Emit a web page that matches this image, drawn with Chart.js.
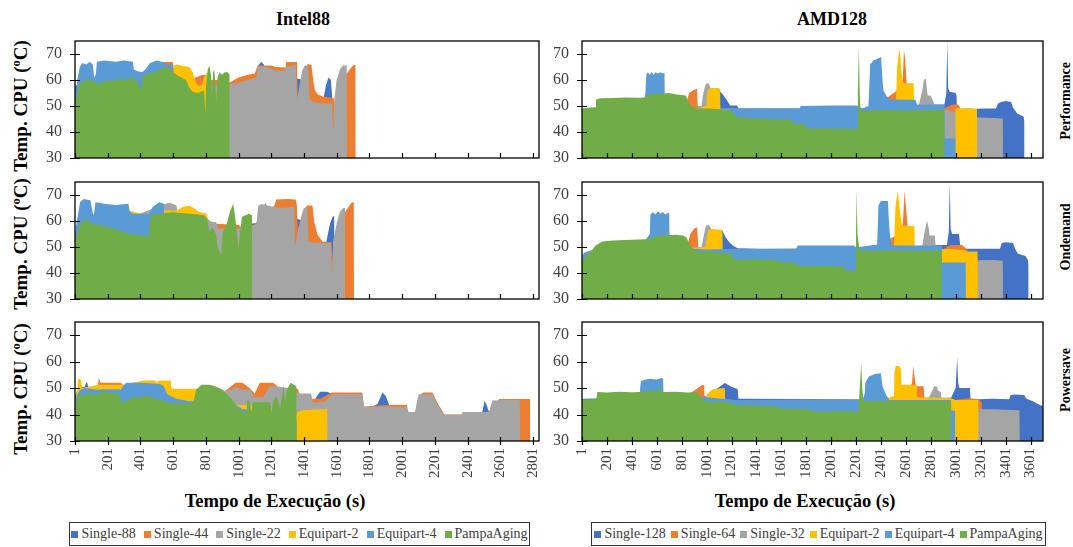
<!DOCTYPE html>
<html><head><meta charset="utf-8">
<script src="https://cdn.jsdelivr.net/npm/chart.js@4/dist/chart.umd.min.js"></script>
<style>
html,body{margin:0;padding:0;background:#fff;}
body{width:1073px;height:547px;position:relative;overflow:hidden;font-family:"Liberation Serif","Times New Roman",serif;color:#000;}
canvas{position:absolute;}
.t{position:absolute;white-space:nowrap;transform:translate(-50%,-50%);font-weight:bold;line-height:1;}
.rot{transform:translate(-50%,-50%) rotate(-90deg);}
.legend{position:absolute;top:522px;height:24px;border:1px solid #333;box-sizing:border-box;display:flex;align-items:center;justify-content:center;font-size:14px;color:#404040;white-space:nowrap;}
.legend .m{display:inline-block;width:7px;height:7px;margin-right:3px;}
</style></head><body>
<div class="t" style="left:303px;top:19px;font-size:18px;">Intel88</div>
<div class="t" style="left:832px;top:19px;font-size:18px;">AMD128</div>
<div class="t rot" style="left:20px;top:106px;font-size:19px;">Temp. CPU (ºC)</div>
<div class="t rot" style="left:20px;top:244px;font-size:19px;">Temp. CPU (ºC)</div>
<div class="t rot" style="left:20px;top:389px;font-size:19px;">Temp. CPU (ºC)</div>
<div class="t rot" style="left:1066px;top:101px;font-size:14px;">Performance</div>
<div class="t rot" style="left:1066px;top:237px;font-size:14px;">Ondemand</div>
<div class="t rot" style="left:1066px;top:380px;font-size:14px;">Powersave</div>
<div class="t" style="left:275px;top:501px;font-size:18.5px;">Tempo de Execução (s)</div>
<div class="t" style="left:805px;top:501px;font-size:18.5px;">Tempo de Execução (s)</div>
<div id="legL" class="legend" style="left:69px;width:461px;gap:8px;"></div>
<div id="legR" class="legend" style="left:591px;width:455px;gap:5px;"></div>
<script>
// ---------- categories / labels ----------
const seriesLeft = ['Single-88','Single-44','Single-22','Equipart-2','Equipart-4','PampaAging'];
const seriesRight = ['Single-128','Single-64','Single-32','Equipart-2','Equipart-4','PampaAging'];
const seriesColors = ['#4472C4','#ED7D31','#A5A5A5','#FFC000','#5B9BD5','#70AD47'];
const xTicksLeft = [1,201,401,601,801,1001,1201,1401,1601,1801,2001,2201,2401,2601,2801];
const xTicksRight = [1,201,401,601,801,1001,1201,1401,1601,1801,2001,2201,2401,2601,2801,3001,3201,3401,3601];
const yTicks = [30,40,50,60,70];

// ---------- Intel88 / Performance : [time (s), temp (ºC)] ----------
const intelPerfSingle88 = [[1,30],[2,58],[20,58],[500,62],[900,58],[1050,60],[1105,62],[1125,66],[1140,67],[1155,66],[1165,62],[1250,62],[1400,60],[1480,52],[1520,53],[1535,58],[1550,61],[1565,60],[1575,52],[1580,30]];
const intelPerfSingle44 = [[1,30],[2,50],[200,60],[500,64],[530,66.9],[600,66.9],[610,62],[700,60],[772,61.8],[794,62],[820,60],[900,60],[947,59],[1000,61],[1057,62],[1100,62.5],[1118,65.6],[1200,65.6],[1225,65],[1288,64.8],[1292,66.9],[1358,66.9],[1362,54],[1380,59],[1400,64],[1425,66.2],[1446,65.8],[1457,60],[1467,56],[1488,54.3],[1520,53.6],[1560,53.3],[1583,53],[1588,45],[1600,50],[1663,62.5],[1680,64],[1700,65.6],[1716,65.8],[1717,30]];
const intelPerfSingle22 = [[1,30],[2,45],[50,55],[200,56],[500,58],[900,58],[947,58.5],[980,58.7],[1020,59.3],[1060,60],[1110,61],[1118,65],[1150,65.2],[1200,64.5],[1225,63.7],[1280,63.5],[1290,65],[1330,65.5],[1350,66],[1360,52.4],[1375,58.7],[1390,63.7],[1405,65.6],[1425,65.6],[1436,52.4],[1460,51.5],[1520,51],[1572,51],[1580,40],[1585,52],[1600,60],[1622,64.3],[1640,65.6],[1662,65.5],[1663,30]];
const intelPerfEquipart2 = [[1,30],[2,50],[10,54],[20,52],[100,58],[300,60],[600,63],[604,65.5],[620,66],[660,65.5],[700,65],[720,63],[740,59],[760,57.5],[775,58],[790,61],[805,63],[812,60],[815,30]];
const intelPerfEquipart4 = [[1,30],[3,52],[15,60],[30,65],[45,66.5],[70,66],[90,67],[110,66],[118,61],[128,62],[135,67],[180,67.5],[250,67],[300,67.5],[355,67],[360,64],[380,63.5],[410,63],[430,64],[460,66.5],[500,67.5],[530,67],[560,66],[600,66],[605,30]];
const intelPerfPampa = [[1,30],[3,50],[20,57],[45,60],[60,59],[80,61],[100,59],[120,60],[140,58],[160,59.5],[180,59],[200,60],[230,59.5],[260,60],[290,60.5],[320,60],[350,61],[375,60],[390,58],[405,56],[415,61],[430,62],[460,62.5],[500,63.5],[540,64.5],[570,65],[590,63.5],[620,62],[650,61],[680,60],[700,57],[720,55.5],[750,55],[770,55.5],[790,56],[798,47],[802,58],[812,64],[822,65.5],[832,62],[838,54],[845,63],[852,64],[860,57],[868,52],[872,61],[885,63],[900,62],[915,63],[935,63],[946,62],[947,30]];

// ---------- Intel88 / Ondemand ----------
const intelOndSingle88 = [[1,30],[2,50],[500,60],[1000,57],[1084,59],[1116,59.2],[1150,65],[1165,66.8],[1180,65],[1250,63],[1400,60],[1500,51.8],[1537,52],[1560,59],[1575,61.5],[1585,62],[1589,30]];
const intelOndSingle44 = [[1,30],[2,50],[300,60],[700,61],[810,61],[840,59],[895,58.8],[1000,58.6],[1030,57],[1084,58],[1180,64],[1220,66],[1231,68.3],[1300,68.5],[1350,68.3],[1357,66],[1365,52],[1385,60],[1400,64.5],[1421,66],[1452,66],[1463,59.7],[1484,54.6],[1515,52],[1568,51.9],[1575,45],[1620,55],[1652,63.4],[1673,65.5],[1694,67.2],[1705,67.2],[1706,30]];
const intelOndSingle22 = [[1,30],[2,48],[200,58],[547,66.5],[580,67],[621,66],[640,60],[700,61],[821,60],[842,59.7],[863,59.5],[880,57],[1000,57],[1084,58.4],[1110,58.6],[1120,65.8],[1140,66.5],[1180,66],[1210,65.5],[1260,65],[1300,65.2],[1340,65.5],[1345,50],[1365,57],[1385,62],[1400,65],[1421,65.2],[1428,52],[1460,51.6],[1540,51.5],[1565,51.5],[1572,40],[1578,52],[1600,59],[1620,63.5],[1640,65],[1652,65],[1653,30]];
const intelOndEquipart2 = [[1,30],[2,50],[100,60],[320,64],[326,67],[332,64],[450,62],[540,64],[620,64],[663,65.5],[700,66],[726,65],[760,63.5],[800,63],[810,62.5],[815,56],[825,30]];
const intelOndEquipart4 = [[1,30],[2,56],[32,67.2],[53,68.5],[95,68],[110,63],[116,62.2],[126,67.2],[179,66.6],[250,66.2],[326,66.6],[337,63.4],[358,62.8],[453,62.8],[474,65.3],[516,67.2],[545,66.6],[547,30]];
const intelOndPampa = [[1,30],[2,52],[30,58.4],[63,61],[95,59],[160,58.4],[242,57],[326,55.2],[390,54.6],[453,54],[463,62.2],[516,62.8],[600,63.4],[705,62.8],[789,62.2],[810,61],[821,56],[842,57.5],[863,55],[874,49.6],[895,47],[905,56],[926,58.4],[947,63.4],[968,66.6],[979,62],[1000,49.6],[1021,61.5],[1042,62.2],[1063,62.8],[1083,62.2],[1084,30]];

// ---------- Intel88 / Powersave ----------
const intelPowSingle88 = [[1,30],[2,47],[20,50],[60,50.5],[73,52.5],[85,50],[200,48],[600,47],[1000,45],[1360,44],[1454,44],[1475,46.5],[1500,48.6],[1540,48.6],[1569,48],[1580,44],[1800,42.5],[1850,44],[1880,48.3],[1900,47],[1925,43],[2029,42],[2040,40.5],[2071,40.5],[2100,39],[2400,40],[2490,41],[2505,45.3],[2520,43],[2531,41],[2540,30]];
const intelPowSingle44 = [[1,30],[2,45],[140,50],[146,54],[157,52],[282,52],[293,51.3],[400,50],[700,47],[900,48],[941,50],[983,52],[1025,52],[1067,50],[1100,48],[1130,52],[1213,52],[1250,50],[1328,49.8],[1364,49.8],[1380,46],[1500,46],[1569,48.3],[1757,48.3],[1767,43],[1935,43.7],[2029,43.7],[2045,38],[2071,38.5],[2090,44],[2110,47.5],[2130,48.3],[2186,48.3],[2220,44],[2259,40],[2364,40],[2531,41],[2594,45.9],[2782,45.9],[2783,30]];
const intelPowSingle22 = [[1,30],[2,45],[300,48],[600,48],[900,49],[941,49],[983,50.3],[1025,49.5],[1067,49.5],[1100,46.5],[1150,46.5],[1192,50.7],[1250,50.5],[1339,49.8],[1360,48],[1444,48],[1454,44.7],[1475,44.5],[1530,45],[1569,47.7],[1650,47.8],[1757,47.7],[1767,42.9],[1900,43],[2029,42.9],[2040,41],[2082,41],[2092,45.3],[2102,47.7],[2186,47.7],[2218,43.5],[2259,39.9],[2364,39.9],[2370,41],[2531,41],[2541,43],[2552,45.3],[2650,45.5],[2720,45.5],[2721,30]];
const intelPowEquipart2 = [[1,30],[2,45],[15,50],[21,53.7],[38,53],[45,50],[146,51.3],[293,51.3],[310,51.5],[418,52.9],[492,52.9],[500,52],[513,52.9],[586,52.9],[590,49.8],[753,49.8],[760,46],[900,45],[1000,43.5],[1050,43.5],[1200,42],[1356,40],[1360,41],[1400,41.7],[1500,42],[1544,42],[1545,30]];
const intelPowEquipart4 = [[1,30],[2,44],[10,47],[31,49.3],[63,50],[125,49.5],[200,49.6],[282,49.5],[293,50.7],[314,52],[400,52],[480,51.7],[523,51.5],[544,50.7],[565,47.7],[620,46],[700,45],[760,45],[800,46],[900,45],[960,44],[1000,43],[1025,42],[1060,42],[1100,40],[1356,38],[1357,30]];
const intelPowPampa = [[1,30],[2,41],[17,47],[40,47.7],[60,47],[80,48.3],[110,47.5],[140,48],[188,48.6],[230,48],[272,47.7],[283,45],[300,44.7],[314,45],[356,46.5],[400,46.5],[439,47],[470,46.5],[502,46],[565,44.7],[620,44.2],[700,44.1],[722,44.3],[743,49.5],[774,51.3],[820,51.3],[858,50.7],[900,49.5],[941,47],[983,44.1],[1004,41.7],[1030,41],[1050,41],[1052,45.3],[1067,45.3],[1078,41],[1088,44.7],[1150,44.7],[1192,44.7],[1203,41],[1213,45.3],[1234,47],[1255,42.3],[1276,51.3],[1286,44.7],[1297,49.5],[1318,52],[1339,51.3],[1355,50.7],[1356,30]];

// ---------- AMD128 / Performance ----------
const amdPerfSingle128 = [[1,30],[2,48],[1000,49],[1100,50],[1109,55.6],[1130,54.5],[1160,52.5],[1180,51],[1191,50.2],[1246,50.2],[1260,48.8],[2000,48.5],[2800,50],[2828,50.6],[2910,50.6],[2925,55],[2933,75],[2940,57],[2952,55.5],[3000,55],[3007,54],[3010,48.75],[3172,48.9],[3250,49],[3323,49],[3340,51],[3364,51.5],[3400,51.9],[3445,51.5],[3460,49.4],[3495,47],[3520,46.5],[3545,46],[3552,44],[3553,30]];
const amdPerfSingle64 = [[1,30],[2,48],[800,50],[847,52.5],[860,55],[890,56],[916,56.5],[925,56.5],[930,50],[1200,48],[1660,47],[1672,48],[1680,46],[2300,48],[2560,57],[2575,60],[2585,71.5],[2595,68],[2608,58],[2620,50],[2900,49],[2952,50],[2970,50.6],[3020,50.6],[3034,49.5],[3040,30]];
const amdPerfSingle32 = [[1,30],[2,47],[900,49],[960,50],[971,54],[990,58],[1005,58.8],[1020,58.5],[1032,57],[1035,49],[2700,49.3],[2732,56],[2745,60],[2760,60.6],[2775,54],[2800,54],[2840,49.5],[3172,45.6],[3200,45.6],[3300,45.4],[3378,45.2],[3380,30]];
const amdPerfEquipart2 = [[1,30],[2,47],[900,48.5],[999,50],[1005,55],[1015,56.3],[1030,56.9],[1100,56.9],[1109,56.5],[1112,48],[2400,48.5],[2520,50],[2530,65],[2545,71],[2553,71.25],[2565,62.5],[2580,58.75],[2663,58.75],[2666,49.5],[2900,49.75],[2905,30],[2998,30],[2999,49],[3100,49.2],[3172,48.8],[3173,30]];
const amdPerfEquipart4 = [[1,30],[2,48],[500,52],[510,55],[517,62],[530,63],[545,62],[560,63.2],[575,62],[590,63],[610,62.5],[630,63],[650,62.5],[663,62.8],[666,50],[800,49],[1000,48.5],[1164,48.7],[1219,49.1],[1500,49.1],[1750,49.1],[1755,50],[2000,50.2],[2209,50.2],[2250,49],[2300,50],[2314,66],[2340,67.5],[2402,68.8],[2410,62],[2420,56],[2446,53.75],[2484,52.5],[2677,52.4],[2690,50.6],[2910,50.5],[2912,37.5],[2999,37.5],[3000,30]];
const amdPerfPampa = [[1,30],[2,49],[60,49.4],[110,49.5],[113,52.5],[150,53],[250,53.1],[350,53.3],[450,53.2],[517,53.3],[530,54.4],[600,54.6],[700,55],[760,54.4],[834,54],[848,52.5],[875,50],[916,49],[1000,49],[1100,48.8],[1164,48.5],[1200,48.1],[1246,45.8],[1300,45.6],[1411,45.2],[1500,45],[1600,44.8],[1686,44.8],[1700,43.1],[1790,43.1],[1800,41.3],[2000,41.3],[2209,41.2],[2215,55],[2223,73],[2230,55],[2236,48.1],[2400,48.5],[2600,48.3],[2800,48.5],[2910,48.5],[2911,30]];

// ---------- AMD128 / Ondemand ----------
const amdOndSingle128 = [[1,30],[2,47],[1000,48],[1128,56.3],[1150,54],[1180,52],[1210,50.6],[1250,49.5],[2000,48.5],[2833,50.8],[2930,50.8],[2945,56],[2952,75],[2960,57],[2971,55],[3026,55],[3040,49.3],[3177,49.3],[3356,49.3],[3370,51.5],[3400,51.8],[3460,51.5],[3480,49],[3500,47.4],[3560,46.5],[3580,44.9],[3585,43],[3586,30]];
const amdOndSingle64 = [[1,30],[2,47],[800,50],[853,51.8],[870,55],[900,57],[925,57.6],[932,57.6],[935,50],[1700,46],[1720,47.5],[1730,45],[2300,48],[2570,56],[2580,62],[2590,71.5],[2600,66],[2614,58],[2625,50],[2900,49],[2930,50],[2960,50.8],[3050,50.8],[3094,49],[3100,30]];
const amdOndSingle32 = [[1,30],[2,47],[960,50],[977,54],[995,58.2],[1020,58.5],[1037,57],[1040,49],[2730,50],[2751,56],[2770,60.1],[2785,57],[2790,54.4],[2833,54.4],[2840,50],[3177,44.9],[3300,45],[3378,44.7],[3380,30]];
const amdOndEquipart2 = [[1,30],[2,47],[990,50],[1004,54],[1015,56.5],[1050,56.9],[1128,56.5],[1131,48],[2400,48.5],[2505,50],[2517,66],[2535,71.5],[2550,65],[2570,58.2],[2669,58],[2672,49.5],[2888,49],[2950,49.2],[3050,48.8],[3100,48.3],[3177,48.3],[3178,30]];
const amdOndEquipart4 = [[1,30],[2,45],[15,47.8],[70,48.7],[200,50],[500,52],[545,55],[550,62.5],[570,63.5],[590,62.5],[610,63.8],[630,62.8],[650,63.5],[670,62.5],[690,63.2],[701,63],[704,50],[1000,49],[1252,49.3],[1720,49.3],[1733,50.6],[2187,50.6],[2200,49.8],[2370,51],[2380,66],[2400,67.7],[2456,67.7],[2462,62],[2470,56],[2484,51],[2500,50.6],[2888,50.6],[2890,44],[3081,44],[3082,30]];
const amdOndPampa = [[1,30],[2,44.2],[40,46.8],[80,48.7],[110,50.6],[165,52.1],[250,52.5],[400,52.8],[550,53.1],[578,54.1],[650,54.4],[750,54.7],[812,54.4],[840,53.7],[867,50.6],[894,49.3],[921,48.3],[1000,48.3],[1087,48],[1114,47.8],[1197,47.6],[1210,46.1],[1224,45.2],[1400,45.2],[1554,45],[1600,44.2],[1700,44],[1733,43],[1747,42.7],[2000,42.7],[2104,42.6],[2110,40.9],[2195,40.9],[2200,55],[2206,72.2],[2212,55],[2228,48.7],[2500,48.7],[2888,48.7],[2889,30]];

// ---------- AMD128 / Powersave ----------
const amdPowSingle128 = [[1,30],[2,46],[1000,47],[1147,51.9],[1200,50.5],[1250,49.7],[1257,46],[2500,45.8],[2743,46.4],[2963,46.4],[3000,50],[3012,61.8],[3020,52],[3031,50],[3114,50],[3120,45.8],[3183,45.8],[3300,46],[3430,45.8],[3440,47.3],[3470,47.6],[3550,47.4],[3568,46],[3620,45],[3680,43.5],[3700,43.3]];
const amdPowSingle64 = [[1,30],[2,45],[850,47],[886,48.5],[930,50],[970,51.3],[982,51],[985,45],[1230,45],[1600,45],[1700,45],[1720,44],[2600,46],[2650,52],[2660,58.5],[2668,55],[2682,50.7],[2743,50.7],[2750,46],[3000,45.5],[3045,45.8],[3100,46.2],[3180,45.9],[3210,44.5],[3212,30]];
const amdPowSingle32 = [[1,30],[2,45],[2780,46],[2811,49],[2830,50.7],[2850,50.5],[2860,49],[2880,48.5],[2890,45],[3183,42],[3300,42],[3400,41.8],[3513,41.6],[3515,30]];
const amdPowEquipart2 = [[1,30],[2,45],[980,46],[996,47],[1020,48.5],[1060,49.7],[1147,50],[1150,45],[2400,45.5],[2505,47],[2509,56],[2520,58.5],[2545,58.3],[2560,57.5],[2564,51.3],[2688,51.3],[2692,46.5],[2963,46.2],[2996,45.5],[3100,45.5],[3183,45.5],[3184,30]];
const amdPowEquipart4 = [[1,30],[2,45],[400,48],[465,48.5],[473,52.5],[500,53.2],[550,53.5],[600,53.3],[640,53.8],[652,53.5],[655,48],[900,47],[1230,45.5],[1500,45.5],[2220,45.5],[2240,44],[2270,48],[2275,51.9],[2303,54.4],[2358,55.4],[2400,55.6],[2413,50.7],[2440,47.6],[2468,45.5],[2963,45.5],[2965,41.4],[2996,41.4],[2997,30]];
const amdPowPampa = [[1,30],[2,45.8],[115,45.8],[124,48.5],[200,48.3],[300,48.6],[400,48.4],[473,48.5],[487,48.8],[560,49],[610,48.8],[624,50.7],[635,48.8],[652,48.5],[750,48.6],[850,48.3],[927,48.5],[955,46.4],[982,45.5],[1010,44.8],[1100,44.8],[1202,44.6],[1230,43.5],[1400,43.4],[1560,43],[1600,42.3],[1835,42],[1850,41.1],[2000,41.2],[2100,41.4],[2220,41],[2230,50],[2242,59.5],[2250,50],[2261,45.1],[2500,45.1],[2963,45.1],[2964,30]];

// ---------- panels (layout only) ----------
const panels = [
  {left:25, top:35, w:520, h:131, xmax:2837, ticks:xTicksLeft, names:seriesLeft, bottom:false, padR:6,
   data:[intelPerfSingle88,intelPerfSingle44,intelPerfSingle22,intelPerfEquipart2,intelPerfEquipart4,intelPerfPampa]},
  {left:25, top:176, w:520, h:131, xmax:2837, ticks:xTicksLeft, names:seriesLeft, bottom:false, padR:6,
   data:[intelOndSingle88,intelOndSingle44,intelOndSingle22,intelOndEquipart2,intelOndEquipart4,intelOndPampa]},
  {left:25, top:316, w:520, h:180, xmax:2837, ticks:xTicksLeft, names:seriesLeft, bottom:true, padR:6,
   data:[intelPowSingle88,intelPowSingle44,intelPowSingle22,intelPowEquipart2,intelPowEquipart4,intelPowPampa]},
  {left:532, top:35, w:518, h:131, xmax:3701, ticks:xTicksRight, names:seriesRight, bottom:false, padR:7,
   data:[amdPerfSingle128,amdPerfSingle64,amdPerfSingle32,amdPerfEquipart2,amdPerfEquipart4,amdPerfPampa]},
  {left:532, top:176, w:518, h:131, xmax:3701, ticks:xTicksRight, names:seriesRight, bottom:false, padR:7,
   data:[amdOndSingle128,amdOndSingle64,amdOndSingle32,amdOndEquipart2,amdOndEquipart4,amdOndPampa]},
  {left:532, top:316, w:518, h:180, xmax:3701, ticks:xTicksRight, names:seriesRight, bottom:true, padR:7,
   data:[amdPowSingle128,amdPowSingle64,amdPowSingle32,amdPowEquipart2,amdPowEquipart4,amdPowPampa]}
];

const framePlugin = {
  id:'frame',
  afterDraw(chart){
    const ctx = chart.ctx, a = chart.chartArea;
    const isBottom = chart.options.plugins.frame.bottom;
    ctx.save();
    ctx.strokeStyle = '#000';
    ctx.lineWidth = 1.3;
    ctx.strokeRect(a.left, a.top, a.right - a.left, a.bottom - a.top);
    ctx.lineWidth = 1.2;
    ctx.beginPath();
    const ys = chart.scales.y;
    ys.ticks.forEach(t => {
      const py = Math.round(ys.getPixelForValue(t.value)) + 0.5;
      ctx.moveTo(a.left - 5, py); ctx.lineTo(a.left + 5, py);
    });
    const xs = chart.scales.x;
    xs.ticks.forEach(t => {
      const px = Math.round(xs.getPixelForValue(t.value)) + 0.5;
      if (isBottom) { ctx.moveTo(px, a.bottom - 4); ctx.lineTo(px, a.bottom + 4); }
      else { ctx.moveTo(px, a.bottom - 5); ctx.lineTo(px, a.bottom); }
    });
    ctx.stroke();
    ctx.restore();
  }
};

const orders = [5,4,3,2,1,0];
panels.forEach(p => {
  const c = document.createElement('canvas');
  c.width = p.w; c.height = p.h;
  c.style.left = p.left + 'px'; c.style.top = p.top + 'px';
  c.style.width = p.w + 'px'; c.style.height = p.h + 'px';
  document.body.appendChild(c);
  const datasets = p.data.map((arr, i) => ({
    label: p.names[i],
    data: arr.map(([x, y]) => ({x, y})),
    backgroundColor: seriesColors[i],
    borderColor: seriesColors[i],
    borderWidth: 0,
    pointRadius: 0,
    fill: 'start',
    tension: 0,
    order: orders[i]
  }));
  new Chart(c, {
    type: 'line',
    data: {datasets},
    options: {
      responsive: false, animation: false, devicePixelRatio: 1,
      layout: {padding: {top: 6, right: p.padR, left: 0, bottom: 0}},
      plugins: {legend: {display: false}, tooltip: {enabled: false}, frame: {bottom: p.bottom}},
      scales: {
        x: {
          type: 'linear', min: 1, max: p.xmax,
          afterBuildTicks: s => { s.ticks = p.ticks.map(v => ({value: v})); },
          afterFit: s => { s.height = p.bottom ? 55 : 8; s.paddingLeft = 0; s.paddingRight = 0; },
          grid: {display: false, drawTicks: false}, border: {display: false},
          ticks: {display: p.bottom, autoSkip: false, maxRotation: 90, minRotation: 90, padding: 7,
                  color: '#404040', font: {family: 'Liberation Serif', size: 15},
                  callback: v => String(v)}
        },
        y: {
          min: 30, max: 75,
          afterBuildTicks: s => { s.ticks = yTicks.map(v => ({value: v})); },
          afterFit: s => { s.width = 50; s.paddingTop = 0; s.paddingBottom = 0; },
          grid: {display: false, drawTicks: false}, border: {display: false},
          ticks: {padding: 13, color: '#404040', font: {family: 'Liberation Serif', size: 16},
                  callback: v => String(v)}
        }
      }
    },
    plugins: [framePlugin]
  });
});

function buildLegend(id, names) {
  const el = document.getElementById(id);
  names.forEach((n, i) => {
    const item = document.createElement('span');
    const m = document.createElement('span');
    m.className = 'm'; m.style.background = seriesColors[i];
    item.appendChild(m);
    item.appendChild(document.createTextNode(n));
    el.appendChild(item);
  });
}
buildLegend('legL', seriesLeft);
buildLegend('legR', seriesRight);
</script>
</body></html>
